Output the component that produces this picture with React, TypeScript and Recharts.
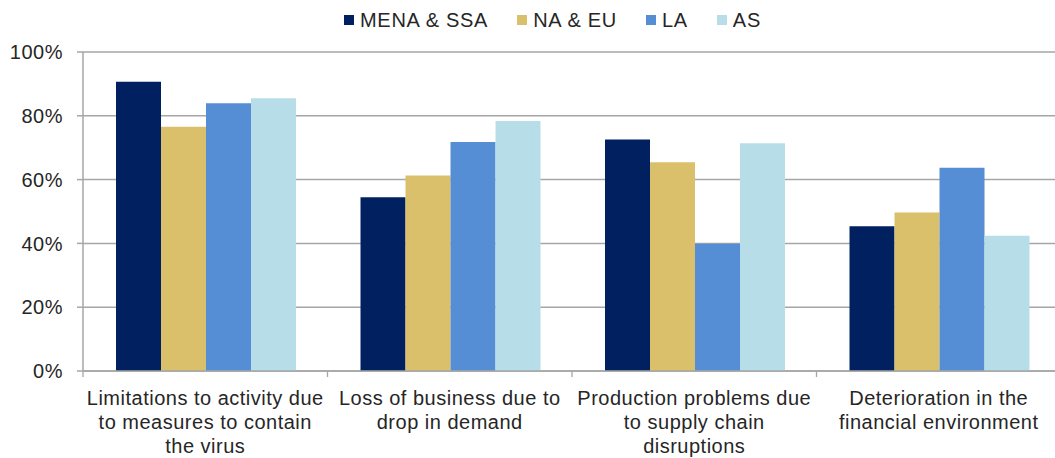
import { BarChart, Bar, XAxis, YAxis, CartesianGrid } from "recharts"

const categories = [
  "Limitations to activity due\nto measures to contain\nthe virus",
  "Loss of business due to\ndrop in demand",
  "Production problems due\nto supply chain\ndisruptions",
  "Deterioration in the\nfinancial environment",
]

const menaSsa = [90.7, 54.5, 72.6, 45.4]
const naEu = [76.6, 61.3, 65.4, 49.7]
const la = [83.9, 71.8, 39.9, 63.7]
const as = [85.5, 78.4, 71.4, 42.4]

const yTicks = [0, 20, 40, 60, 80, 100]

const series = [
  { key: "mena", name: "MENA & SSA", color: "#002060" },
  { key: "naeu", name: "NA & EU", color: "#DBC06B" },
  { key: "la", name: "LA", color: "#558ED5" },
  { key: "as", name: "AS", color: "#B7DEE8" },
]

const data = categories.map((c, i) => ({
  name: c,
  mena: menaSsa[i],
  naeu: naEu[i],
  la: la[i],
  as: as[i],
}))

const FONT = "'Liberation Sans', Arial, sans-serif"
const TEXT = "#262626"
const GRID = "#A6A6A6"

/* ── category tick: wrapped label + boundary tick mark ── */

// eslint-disable-next-line @typescript-eslint/no-explicit-any
function CategoryTick({ x, y, payload }: any) {
  const half = payload?.offset ?? 122
  const lines = String(payload.value).split("\n")
  return (
    <g>
      <line x1={x - half} x2={x - half} y1={y} y2={y + 6} stroke={GRID} strokeWidth={1.3} />
      <text
        x={x}
        y={y}
        textAnchor="middle"
        fill={TEXT}
        fontFamily={FONT}
        fontSize={20}
        letterSpacing={0.5}
      >
        {lines.map((l, i) => (
          <tspan key={i} x={x} y={y + 34 + i * 24}>
            {l}
          </tspan>
        ))}
      </text>
    </g>
  )
}

function TopLegend() {
  return (
    <div
      style={{
        position: "absolute",
        left: 344,
        top: 9,
        display: "flex",
        alignItems: "center",
        fontFamily: FONT,
        fontSize: 20,
        letterSpacing: 0.7,
        lineHeight: "22px",
        color: TEXT,
      }}
    >
      {series.map((s) => (
        <div key={s.key} style={{ display: "flex", alignItems: "center", marginRight: 29 }}>
          <span style={{ width: 10, height: 10, background: s.color, marginRight: 6 }} />
          <span>{s.name}</span>
        </div>
      ))}
    </div>
  )
}

export default function App() {
  return (
    <div
      style={{
        position: "absolute",
        left: 0,
        top: 0,
        width: 1055,
        height: 458,
        overflow: "hidden",
        background: "#fff",
      }}
    >
      <BarChart
        width={1061}
        height={458}
        data={data}
        barCategoryGap="13.5%"
        barGap={0}
        margin={{ top: 52, right: 0, left: 0, bottom: 0 }}
      >
        <CartesianGrid vertical={false} stroke={GRID} strokeWidth={1.5} />
        <XAxis
          dataKey="name"
          height={87}
          interval={0}
          axisLine={{ stroke: GRID, strokeWidth: 1.5 }}
          tickLine={false}
          tickSize={0}
          tickMargin={0}
          tick={<CategoryTick />}
        />
        <YAxis
          width={83}
          domain={[0, 100]}
          ticks={yTicks}
          interval={0}
          tickFormatter={(v) => `${v}%`}
          axisLine={{ stroke: GRID, strokeWidth: 1.5 }}
          tickLine={{ stroke: GRID, strokeWidth: 1.5 }}
          tickSize={6}
          tickMargin={14}
          tick={{ fill: TEXT, fontSize: 20, fontFamily: FONT, letterSpacing: 0.5 }}
        />
        {series.map((s) => (
          <Bar
            key={s.key}
            dataKey={s.key}
            name={s.name}
            fill={s.color}
            isAnimationActive={false}
          />
        ))}
      </BarChart>
      <TopLegend />
    </div>
  )
}
